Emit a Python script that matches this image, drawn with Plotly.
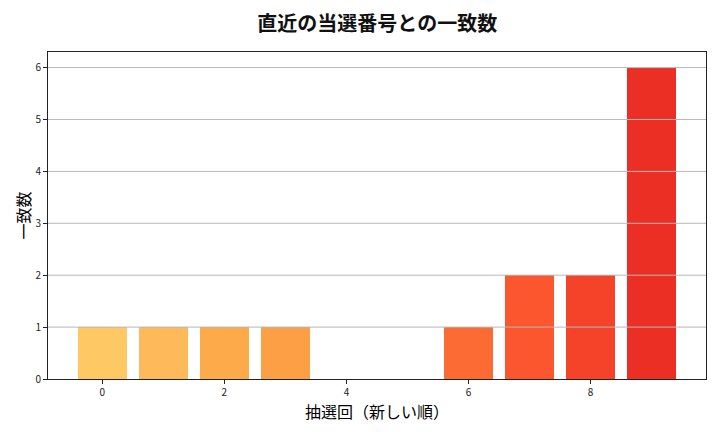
import plotly.graph_objects as go

# data
draws = list(range(10))
matches = [1, 1, 1, 1, 0, 0, 1, 2, 2, 6]
bar_colors = ['#FEC965', '#FEB95A', '#FDAA4B', '#FD9F45', '#FD8D3C',
              '#FC7A37', '#FC6B33', '#FB562E', '#F5432A', '#EC2F24']
x_ticks = [0, 2, 4, 6, 8]
y_ticks = [0, 1, 2, 3, 4, 5, 6]

font_jp = "Noto Sans CJK JP"

fig = go.Figure()
fig.add_bar(
    x=draws,
    y=matches,
    width=0.8,
    marker=dict(color=bar_colors, line=dict(width=0)),
    showlegend=False
)

# horizontal grid drawn on top of the bars, as in the original
for t in y_ticks[1:]:
    fig.add_hline(y=t, line=dict(color='#b8b8b8', width=1), layer='above')

fig.update_layout(
    width=720,
    height=432,
    paper_bgcolor='white',
    plot_bgcolor='white',
    font=dict(family=font_jp, size=10, color='#222222'),
    margin=dict(l=48, r=14, t=52, b=53),
    title=dict(
        text="<b>直近の当選番号との一致数</b>",
        font=dict(family=font_jp, size=20, color='#111111'),
        x=0.524, xanchor='center', y=0.945, yanchor='middle'
    ),
    bargap=0
)
fig.update_xaxes(
    range=[-0.89, 9.89],
    tickvals=x_ticks,
    ticks='outside', ticklen=4, tickcolor='#222222',
    showgrid=False, zeroline=False,
    showline=True, linecolor='#222222', linewidth=1, mirror=True,
    title=dict(text="抽選回（新しい順）", font=dict(family=font_jp, size=16, color='#000000'), standoff=6)
)
fig.update_yaxes(
    range=[0, 6.3],
    tickvals=y_ticks,
    ticks='outside', ticklen=4, tickcolor='#222222',
    showgrid=False, zeroline=False,
    showline=True, linecolor='#222222', linewidth=1, mirror=True,
    title=dict(text="一致数", font=dict(family=font_jp, size=16, color='#000000'), standoff=0)
)

# drop the browser's default body margin so the 720x432 figure fills the window
fig.write_html("out.html", config={"displayModeBar": False},
               post_script="document.body.style.margin='0';")
